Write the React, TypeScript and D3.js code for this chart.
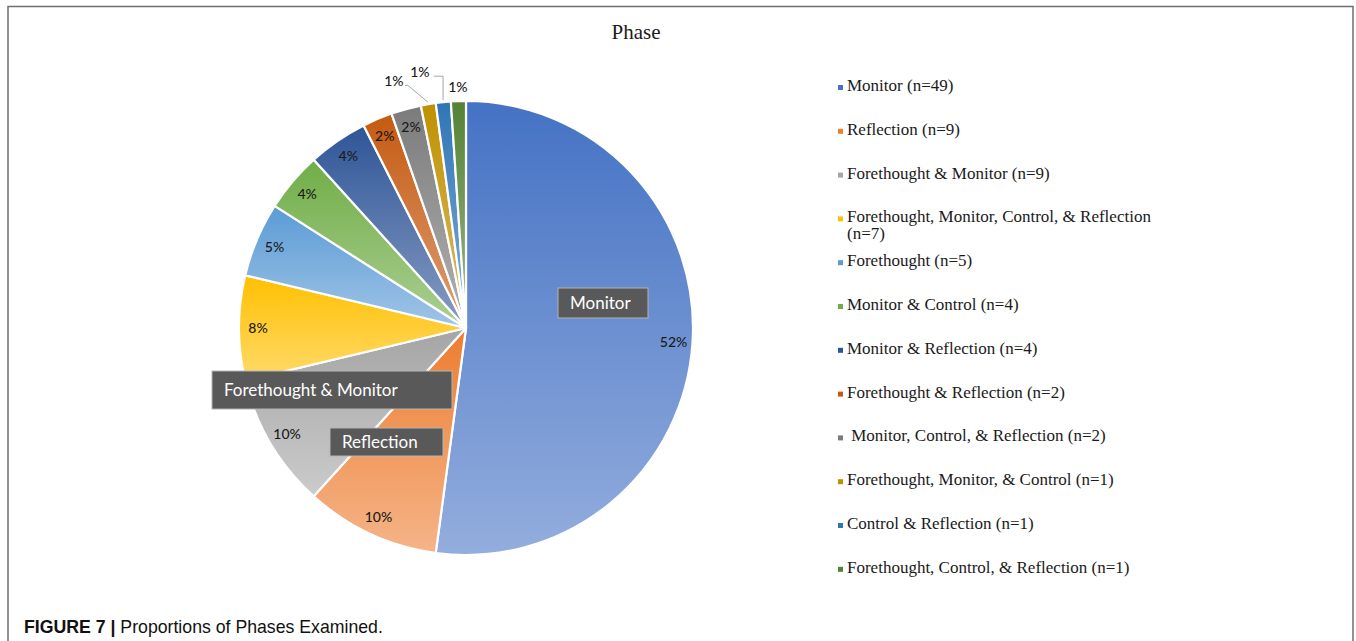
import * as d3 from "d3";
import { useEffect, useRef } from "react";

const categories = [
  "Monitor",
  "Reflection",
  "Forethought & Monitor",
  "Forethought, Monitor, Control, & Reflection",
  "Forethought",
  "Monitor & Control",
  "Monitor & Reflection",
  "Forethought & Reflection",
  " Monitor, Control, & Reflection",
  "Forethought, Monitor, & Control",
  "Control & Reflection",
  "Forethought, Control, & Reflection",
];
const counts = [49, 9, 9, 7, 5, 4, 4, 2, 2, 1, 1, 1];
const pctLabels = ["52%", "10%", "10%", "8%", "5%", "4%", "4%", "2%", "2%", "1%", "1%", "1%"];
const boxedNames = ["Monitor", "Reflection", "Forethought & Monitor"];

const COLORS = [
  "#4472C4",
  "#ED7D31",
  "#A5A5A5",
  "#FFC000",
  "#5B9BD5",
  "#70AD47",
  "#2F5597",
  "#C55A11",
  "#7B7B7B",
  "#BF9000",
  "#2E75B6",
  "#548235",
];

const W = 1356;
const H = 641;
const CX = 466;
const CY = 328;
const R = 227;
const LABEL_R = 208;
const OUTSIDE_FROM = 9; // slices whose % sits outside the pie
// nudges for the crowded outside labels (relative to radius R+14)
const OUTSIDE_NUDGE = [
  [-32, -9],
  [-22, -16],
  [0, 0],
];
// name boxes, relative to pie centre
const BOX_LAYOUT: Record<string, { x: number; y: number; w: number; h: number }> = {
  Monitor: { x: 92, y: -40, w: 90, h: 30 },
  "Forethought & Monitor": { x: -254, y: 43, w: 240, h: 38 },
  Reflection: { x: -136, y: 100, w: 113, h: 28 },
};
const LEGEND_X = 838;
const LEGEND_Y0 = 86;
const LEGEND_STEP = 43.8;
const LEGEND_WRAP = 325;

export default function App() {
  const svgRef = useRef<SVGSVGElement>(null);

  useEffect(() => {
    const svg = d3.select(svgRef.current);
    svg.selectAll("*").remove();

    // frame
    svg
      .append("path")
      .attr("d", `M8,${H} V6.5 H1353 V${H}`)
      .attr("fill", "none")
      .attr("stroke", "#6f6f6f")
      .attr("stroke-width", 1.5);

    svg
      .append("text")
      .attr("x", 636)
      .attr("y", 39)
      .attr("text-anchor", "middle")
      .attr("font-family", "'Liberation Serif', serif")
      .attr("font-size", 21)
      .attr("fill", "#1a1a1a")
      .text("Phase");

    // gradients
    const defs = svg.append("defs");
    COLORS.forEach((c, i) => {
      const g = defs
        .append("linearGradient")
        .attr("id", `sl${i}`)
        .attr("x1", 0)
        .attr("y1", 0)
        .attr("x2", 0)
        .attr("y2", 1);
      g.append("stop").attr("offset", "0%").attr("stop-color", c);
      g.append("stop")
        .attr("offset", "100%")
        .attr("stop-color", d3.interpolateRgb(c, "#ffffff")(0.42));
    });

    const pie = d3
      .pie<number>()
      .sort(null)
      .value((d) => d);
    const arcs = pie(counts);
    const arc = d3.arc<d3.PieArcDatum<number>>().innerRadius(0).outerRadius(R);
    const labelArc = d3
      .arc<d3.PieArcDatum<number>>()
      .innerRadius(LABEL_R)
      .outerRadius(LABEL_R);
    const outArc = d3
      .arc<d3.PieArcDatum<number>>()
      .innerRadius(R + 14)
      .outerRadius(R + 14);
    const edgeArc = d3
      .arc<d3.PieArcDatum<number>>()
      .innerRadius(R + 2)
      .outerRadius(R + 2);

    const g = svg.append("g").attr("transform", `translate(${CX},${CY})`);

    g.selectAll(".slice")
      .data(arcs)
      .enter()
      .append("path")
      .attr("class", "slice")
      .attr("d", arc)
      .attr("fill", (_, i) => `url(#sl${i})`)
      .attr("stroke", "#fff")
      .attr("stroke-width", 2.2)
      .attr("stroke-linejoin", "round");

    const labelFont = "Lato, 'Open Sans', sans-serif";

    arcs.forEach((a, i) => {
      if (i < OUTSIDE_FROM) {
        const [x, y] = labelArc.centroid(a);
        g.append("text")
          .attr("x", x)
          .attr("y", y)
          .attr("dy", "0.35em")
          .attr("text-anchor", "middle")
          .attr("font-family", labelFont)
          .attr("font-size", 14)
          .attr("font-weight", 500)
          .attr("fill", "#1a1a1a")
          .text(pctLabels[i]);
      } else {
        const [bx, by] = outArc.centroid(a);
        const [nx, ny] = OUTSIDE_NUDGE[i - OUTSIDE_FROM];
        const lx = bx + nx;
        const ly = by + ny;
        const [sx, sy] = edgeArc.centroid(a);
        const endX = lx + 14;
        const endY = ly + 4;
        const h = sx - endX;
        const dyy = sy - endY;
        if (h > 2 && dyy > 4) {
          const pts: [number, number][] =
            h < dyy * 0.5
              ? [
                  [sx, sy],
                  [sx, endY],
                  [endX, endY],
                ]
              : [
                  [sx, sy],
                  [endX, endY],
                  [endX - 3, endY],
                ];
          g.append("path")
            .attr("d", d3.line()(pts))
            .attr("fill", "none")
            .attr("stroke", "#a6a6a6")
            .attr("stroke-width", 1);
        }
        g.append("text")
          .attr("x", lx)
          .attr("y", ly)
          .attr("dy", "0.35em")
          .attr("text-anchor", "middle")
          .attr("font-family", labelFont)
          .attr("font-size", 14)
          .attr("font-weight", 500)
          .attr("fill", "#1a1a1a")
          .text(pctLabels[i]);
      }
    });

    // boxed category names
    boxedNames.forEach((name) => {
      const b = BOX_LAYOUT[name];
      g.append("rect")
        .attr("x", b.x)
        .attr("y", b.y)
        .attr("width", b.w)
        .attr("height", b.h)
        .attr("fill", "#595959")
        .attr("stroke", "#b4b4b4")
        .attr("stroke-width", 1);
      g.append("text")
        .attr("x", b.x + 12)
        .attr("y", b.y + b.h / 2)
        .attr("dy", "0.36em")
        .attr("font-family", labelFont)
        .attr("font-size", 17)
        .attr("fill", "#ffffff")
        .text(name);
    });

    // legend
    const leg = svg.append("g");
    categories.forEach((name, i) => {
      const y = LEGEND_Y0 + i * LEGEND_STEP;
      leg
        .append("rect")
        .attr("x", LEGEND_X)
        .attr("y", y - 1)
        .attr("width", 5)
        .attr("height", 5)
        .attr("fill", COLORS[i]);
      const t = leg
        .append("text")
        .attr("x", LEGEND_X + 9)
        .attr("y", y + 5)
        .attr("font-family", "'Liberation Serif', serif")
        .attr("font-size", 17)
        .attr("fill", "#1a1a1a")
        .style("white-space", "pre");
      const full = `${name} (n=${counts[i]})`;
      t.text(full);
      const node = t.node() as SVGTextElement;
      if (node.getComputedTextLength() > LEGEND_WRAP) {
        const words = full.split(" ");
        let line: string[] = [];
        const lines: string[] = [];
        words.forEach((w) => {
          t.text([...line, w].join(" "));
          if (node.getComputedTextLength() > LEGEND_WRAP && line.length) {
            lines.push(line.join(" "));
            line = [w];
          } else line.push(w);
        });
        lines.push(line.join(" "));
        t.text(null);
        lines.forEach((l, k) =>
          t
            .append("tspan")
            .attr("x", LEGEND_X + 9)
            .attr("dy", k === 0 ? 0 : 16.5)
            .text(l)
        );
      }
    });

    // caption
    const cap = svg
      .append("text")
      .attr("x", 24)
      .attr("y", 633)
      .attr("font-family", "'Liberation Sans', Arial, sans-serif")
      .attr("font-size", 17.7)
      .attr("fill", "#111");
    cap.append("tspan").attr("font-weight", "bold").text("FIGURE 7 | ");
    cap.append("tspan").text("Proportions of Phases Examined.");
  }, []);

  return (
    <svg
      ref={svgRef}
      width={W}
      height={H}
      style={{ position: "absolute", left: 0, top: 0, background: "#fff" }}
    />
  );
}
